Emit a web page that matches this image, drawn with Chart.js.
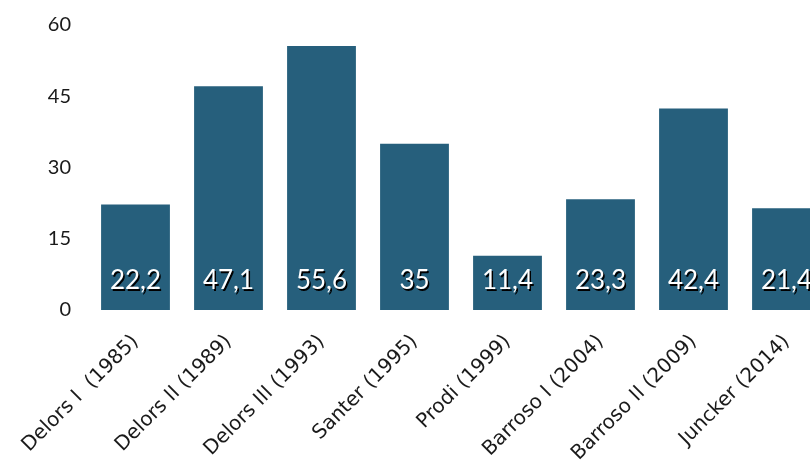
<!DOCTYPE html>
<html>
<head>
<meta charset="utf-8">
<script src="https://cdn.jsdelivr.net/npm/chart.js@4/dist/chart.umd.min.js"></script>
<style>
  html, body { margin: 0; padding: 0; background: #ffffff; overflow: hidden; }
  #wrap { width: 840px; height: 464px; }
</style>
</head>
<body>
<div id="wrap"><canvas id="c" width="840" height="464"></canvas></div>
<script>
// Commissions and their vote shares
const commissions = [
  "Delors I  (1985)", "Delors II (1989)", "Delors III (1993)", "Santer (1995)",
  "Prodi (1999)", "Barroso I (2004)", "Barroso II (2009)", "Juncker (2014)"
];
const shares = [22.2, 47.1, 55.6, 35, 11.4, 23.3, 42.4, 21.4];
const yTicks = [0, 15, 30, 45, 60];

const FONT = "Lato, 'Open Sans', sans-serif";
const LABEL_FONT = "'DejaVu Sans', Lato, sans-serif";

// Writes each value in white near the foot of its bar, with a dark drop shadow
const barValueLabels = {
  id: 'barValueLabels',
  afterDatasetsDraw(chart) {
    const ctx = chart.ctx;
    const meta = chart.getDatasetMeta(0);
    const yScale = chart.scales.y;
    ctx.save();
    ctx.font = "26px " + FONT;
    ctx.textAlign = 'center';
    ctx.textBaseline = 'middle';
    ctx.fillStyle = '#ffffff';
    ctx.shadowColor = '#000000';
    ctx.shadowOffsetX = 1.5;
    ctx.shadowOffsetY = 1.5;
    ctx.shadowBlur = 0;
    meta.data.forEach((bar, i) => {
      const txt = String(shares[i]).replace('.', ',');
      ctx.fillText(txt, bar.x, yScale.getPixelForValue(0) - 29);
    });
    ctx.restore();
  }
};

new Chart(document.getElementById('c'), {
  type: 'bar',
  data: {
    labels: commissions,
    datasets: [{
      data: shares,
      backgroundColor: '#265f7c',
      borderWidth: 0,
      barPercentage: 0.74,
      categoryPercentage: 1.0
    }]
  },
  options: {
    responsive: false,
    animation: false,
    layout: { autoPadding: false, padding: { top: 25, left: 0, right: 7, bottom: 0 } },
    plugins: { legend: { display: false }, tooltip: { enabled: false } },
    scales: {
      x: {
        grid: { display: false, drawTicks: false },
        border: { display: false },
        afterFit(scale) {
          scale.height = 154;
          scale.paddingLeft = 0;
          scale.paddingRight = 0;
          scale.paddingTop = 0;
        },
        ticks: {
          color: '#1a1a1a',
          font: { family: LABEL_FONT, size: 20 },
          minRotation: 45,
          maxRotation: 45,
          padding: 20
        }
      },
      y: {
        min: 0,
        max: 60,
        grid: { display: false, drawTicks: false },
        border: { display: false },
        afterFit(scale) {
          scale.width = 89;
          scale.paddingTop = 0;
          scale.paddingBottom = 0;
        },
        afterBuildTicks(scale) { scale.ticks = yTicks.map(v => ({ value: v })); },
        ticks: {
          color: '#1a1a1a',
          font: { family: FONT, size: 20 },
          padding: 18
        }
      }
    }
  },
  plugins: [barValueLabels]
});
</script>
</body>
</html>
